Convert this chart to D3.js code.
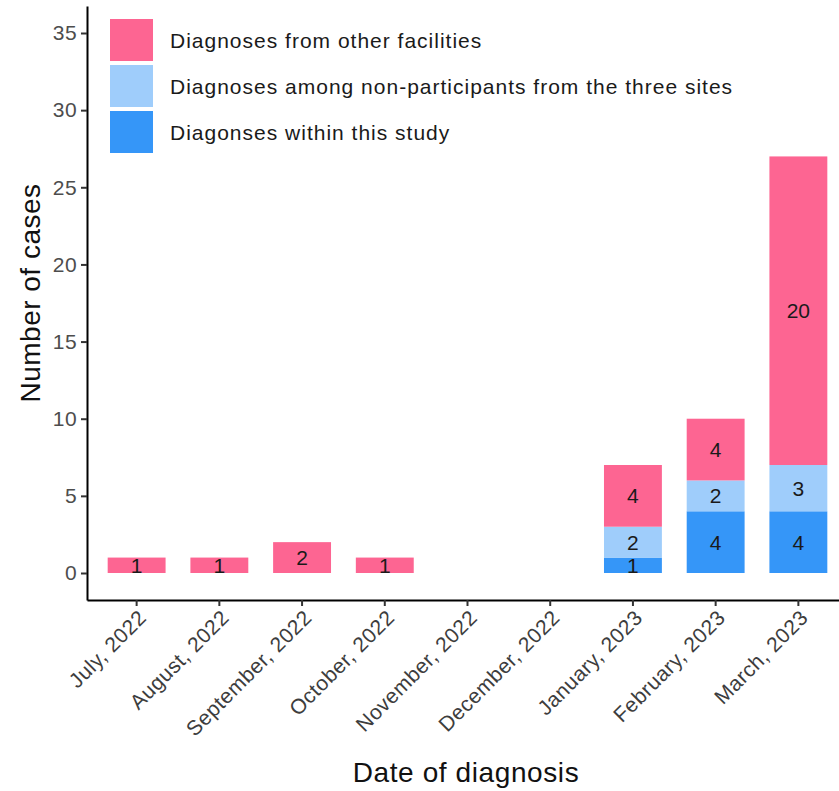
<!DOCTYPE html>
<html>
<head>
<meta charset="utf-8">
<script src="https://cdn.jsdelivr.net/npm/d3@7"></script>
<style>
  body { margin: 0; background: #fff; }
  svg { font-family: "Liberation Sans", Arial, sans-serif; }
</style>
</head>
<body>
<svg></svg>
<script>
let months = ['July, 2022', 'August, 2022', 'September, 2022', 'October, 2022', 'November, 2022',
              'December, 2022', 'January, 2023', 'February, 2023', 'March, 2023']
let withinStudy = [0, 0, 0, 0, 0, 0, 1, 4, 4]
let nonParticipants = [0, 0, 0, 0, 0, 0, 2, 2, 3]
let otherFacilities = [1, 1, 2, 1, 0, 0, 4, 4, 20]
let seriesNames = ['Diagonses within this study', 'Diagnoses among non-participants from the three sites', 'Diagnoses from other facilities']
let seriesColors = ['#3596f8', '#9fcdfb', '#fd6592']
let yTicks = [0, 5, 10, 15, 20, 25, 30, 35]

let width = 839
let height = 791

let svg = d3.select('svg').attr('width', width).attr('height', height)

let rows = months.map((m, i) => ({
    month: m,
    s0: withinStudy[i],
    s1: nonParticipants[i],
    s2: otherFacilities[i]
}))

let stack = d3.stack().keys(['s0', 's1', 's2'])(rows)

// one step per month, 0.6 step of room at each end (ggplot style)
let xScale = d3.scaleBand()
               .domain(months)
               .range([87, 848])
               .paddingInner(0)
               .paddingOuter(0.1)

let barW = xScale.bandwidth() * 0.7
let barX = m => xScale(m) + xScale.bandwidth() * 0.15

let yScale = d3.scaleLinear()
               .domain([-1.75, 36.75])
               .range([600, 6])

// bars
stack.forEach((layer, k) => {
    svg.append('g')
       .selectAll('rect')
       .data(layer)
       .enter()
       .append('rect')
       .attr('x', d => barX(d.data.month))
       .attr('width', barW)
       .attr('y', d => yScale(d[1]))
       .attr('height', d => yScale(d[0]) - yScale(d[1]))
       .attr('fill', seriesColors[k])

    svg.append('g')
       .selectAll('text')
       .data(layer.filter(d => d[1] - d[0] > 0))
       .enter()
       .append('text')
       .attr('x', d => xScale(d.data.month) + xScale.bandwidth() / 2)
       .attr('y', d => yScale((d[0] + d[1]) / 2))
       .attr('dy', '0.36em')
       .attr('text-anchor', 'middle')
       .attr('font-size', 21)
       .attr('fill', '#1a1a1a')
       .text(d => d[1] - d[0])
})

// axes
let xAxis = d3.axisBottom(xScale).tickSize(6).tickSizeOuter(0)
let yAxis = d3.axisLeft(yScale).tickValues(yTicks).tickSize(6).tickSizeOuter(0)

let gx = svg.append('g')
            .attr('transform', 'translate(0,600)')
            .call(xAxis)
gx.select('.domain').attr('stroke', '#000').attr('stroke-width', 2)
gx.selectAll('.tick line').attr('stroke', '#333').attr('stroke-width', 2)
gx.selectAll('.tick text')
  .attr('font-size', 21)
  .attr('letter-spacing', 0.5)
  .attr('fill', '#3d3d3d')
  .attr('text-anchor', 'end')
  .attr('y', 0)
  .attr('dy', 0)
  .attr('transform', 'translate(11,19) rotate(-45)')

let gy = svg.append('g')
            .attr('transform', 'translate(87,0)')
            .call(yAxis)
gy.select('.domain').attr('stroke', '#000').attr('stroke-width', 2)
gy.selectAll('.tick line').attr('stroke', '#333').attr('stroke-width', 2)
gy.selectAll('.tick text')
  .attr('font-size', 21)
  .attr('letter-spacing', 0.4)
  .attr('fill', '#4d4d4d')
  .attr('x', -10)

// axis titles
svg.append('text')
   .attr('x', 466)
   .attr('y', 782)
   .attr('text-anchor', 'middle')
   .attr('font-size', 28)
   .attr('letter-spacing', 0.6)
   .attr('fill', '#111')
   .text('Date of diagnosis')

svg.append('text')
   .attr('transform', 'translate(40,293) rotate(-90)')
   .attr('text-anchor', 'middle')
   .attr('font-size', 28)
   .attr('letter-spacing', 0.5)
   .attr('fill', '#111')
   .text('Number of cases')

// legend, top entry is the top of the stack
let legendOrder = [2, 1, 0]
let legend = svg.append('g').attr('transform', 'translate(110,19)')
legendOrder.forEach((k, i) => {
    legend.append('rect')
          .attr('x', 0)
          .attr('y', i * 46)
          .attr('width', 43)
          .attr('height', 42)
          .attr('fill', seriesColors[k])
    legend.append('text')
          .attr('x', 60)
          .attr('y', i * 46 + 22)
          .attr('dy', '0.35em')
          .attr('font-size', 21)
          .attr('letter-spacing', 1)
          .attr('fill', '#1a1a1a')
          .text(seriesNames[k])
})
</script>
</body>
</html>
